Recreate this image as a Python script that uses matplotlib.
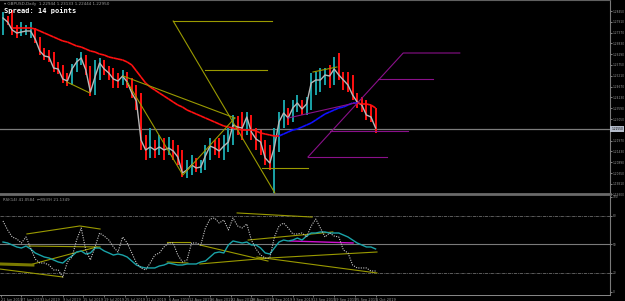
import numpy as np
import matplotlib
matplotlib.use("Agg")
import matplotlib.pyplot as plt
from matplotlib.collections import LineCollection

# daily bars, 21 Jun 2019 .. 1 Oct 2019
closes = [1.2810, 1.2790, 1.2750, 1.2735, 1.2740, 1.2745, 1.2745, 1.2705, 1.2645, 1.2620,
          1.2615, 1.2560, 1.2555, 1.2505, 1.2495, 1.2555, 1.2590, 1.2610, 1.2550, 1.2440,
          1.2515, 1.2585, 1.2555, 1.2535, 1.2505, 1.2495, 1.2520, 1.2490, 1.2435, 1.2395,
          1.2200, 1.2150, 1.2165, 1.2150, 1.2165, 1.2150, 1.2160, 1.2145, 1.2115, 1.2035,
          1.2050, 1.2075, 1.2060, 1.2065, 1.2120, 1.2170, 1.2160, 1.2145, 1.2170, 1.2190,
          1.2275, 1.2265, 1.2260, 1.2315, 1.2240, 1.2205, 1.2190, 1.2110, 1.2085, 1.2165,
          1.2290, 1.2335, 1.2310, 1.2360, 1.2385, 1.2355, 1.2380, 1.2485, 1.2500, 1.2500,
          1.2525, 1.2520, 1.2555, 1.2525, 1.2500, 1.2475, 1.2425, 1.2390, 1.2375, 1.2325,
          1.2315, 1.2260]
highs = [1.2840, 1.2820, 1.2850, 1.2775, 1.2790, 1.2775, 1.2790, 1.2760, 1.2715, 1.2660,
         1.2650, 1.2640, 1.2590, 1.2575, 1.2535, 1.2580, 1.2610, 1.2640, 1.2625, 1.2570,
         1.2600, 1.2610, 1.2600, 1.2570, 1.2560, 1.2535, 1.2550, 1.2540, 1.2510, 1.2475,
         1.2435, 1.2225, 1.2260, 1.2200, 1.2225, 1.2210, 1.2215, 1.2200, 1.2175, 1.2150,
         1.2100, 1.2125, 1.2110, 1.2100, 1.2175, 1.2210, 1.2200, 1.2210, 1.2225, 1.2260,
         1.2325, 1.2320, 1.2340, 1.2340, 1.2325, 1.2260, 1.2250, 1.2200, 1.2175, 1.2260,
         1.2340, 1.2400, 1.2360, 1.2400, 1.2425, 1.2400, 1.2415, 1.2535, 1.2540, 1.2560,
         1.2560, 1.2575, 1.2615, 1.2635, 1.2540, 1.2540, 1.2525, 1.2435, 1.2415, 1.2400,
         1.2375, 1.2360]
lows = [1.2725, 1.2775, 1.2725, 1.2710, 1.2720, 1.2725, 1.2710, 1.2685, 1.2625, 1.2600,
        1.2590, 1.2540, 1.2530, 1.2485, 1.2470, 1.2475, 1.2540, 1.2575, 1.2525, 1.2420,
        1.2425, 1.2500, 1.2525, 1.2500, 1.2460, 1.2460, 1.2475, 1.2460, 1.2410, 1.2350,
        1.2150, 1.2100, 1.2110, 1.2110, 1.2125, 1.2100, 1.2125, 1.2100, 1.2075, 1.2015,
        1.2010, 1.2025, 1.2040, 1.2035, 1.2050, 1.2100, 1.2125, 1.2110, 1.2100, 1.2140,
        1.2175, 1.2225, 1.2200, 1.2225, 1.2200, 1.2150, 1.2125, 1.2075, 1.2050, 1.1935,
        1.2140, 1.2260, 1.2275, 1.2290, 1.2340, 1.2325, 1.2325, 1.2350, 1.2425, 1.2440,
        1.2475, 1.2460, 1.2475, 1.2500, 1.2450, 1.2440, 1.2400, 1.2360, 1.2340, 1.2300,
        1.2290, 1.2235]
first_open = 1.2800

ma = [np.nan, np.nan, 1.2760, 1.2760, 1.2760, 1.2760, 1.2760, 1.2755, 1.2745, 1.2735,
      1.2725, 1.2715, 1.2705, 1.2695, 1.2690, 1.2680, 1.2670, 1.2665, 1.2655, 1.2645,
      1.2640, 1.2630, 1.2625, 1.2615, 1.2610, 1.2605, 1.2600, 1.2590, 1.2575, 1.2545,
      1.2515, 1.2485, 1.2465, 1.2450, 1.2435, 1.2420, 1.2405, 1.2390, 1.2375, 1.2365,
      1.2350, 1.2340, 1.2330, 1.2320, 1.2310, 1.2300, 1.2290, 1.2280, 1.2270, 1.2265,
      1.2260, 1.2255, 1.2250, 1.2250, 1.2250, 1.2245, 1.2235, 1.2230, 1.2225, 1.2220,
      1.2220, 1.2230, 1.2240, 1.2250, 1.2255, 1.2265, 1.2275, 1.2285, 1.2300, 1.2315,
      1.2330, 1.2340, 1.2350, 1.2360, 1.2365, 1.2375, 1.2385, 1.2385, 1.2380, 1.2380,
      1.2375, 1.2360]

rsi_slow = [52.6, 51.6, 49.5, 47.4, 46.3, 48.4, 45.3, 41.1, 38.9, 36.8,
            35.8, 33.7, 31.6, 30.5, 34.7, 37.9, 42.1, 43.2, 40.0, 41.1,
            46.3, 46.3, 43.2, 41.1, 38.9, 40.0, 38.9, 36.8, 32.6, 28.4,
            26.3, 25.3, 25.3, 25.3, 27.4, 28.4, 30.5, 29.5, 28.4, 28.4,
            29.5, 29.5, 29.5, 31.6, 32.6, 36.8, 41.1, 42.1, 41.1, 49.5,
            53.7, 52.6, 51.6, 52.6, 49.5, 49.5, 46.3, 41.1, 40.0, 46.3,
            52.6, 54.7, 53.7, 54.7, 56.8, 54.7, 58.9, 62.1, 62.1, 63.2,
            63.2, 62.1, 62.1, 62.1, 60.0, 57.9, 54.7, 51.6, 49.5, 47.4,
            47.4, 45.3]
rsi_fast = [74.7, 65.3, 57.9, 55.8, 51.6, 57.9, 46.3, 34.7, 30.5, 30.5,
            28.4, 23.2, 23.2, 15.8, 31.6, 36.8, 54.7, 67.4, 44.2, 33.7,
            47.4, 62.1, 58.9, 54.7, 47.4, 42.1, 57.9, 51.6, 41.1, 30.5,
            25.3, 23.2, 30.5, 38.9, 41.1, 47.4, 51.6, 51.6, 38.9, 31.6,
            33.7, 51.6, 51.6, 49.5, 67.4, 76.8, 77.9, 72.6, 75.8, 65.3,
            77.9, 69.5, 67.4, 71.6, 54.7, 45.3, 38.9, 35.8, 35.8, 57.9,
            69.5, 72.6, 67.4, 61.1, 61.1, 62.1, 57.9, 69.5, 76.8, 67.4,
            57.9, 62.1, 58.9, 57.9, 44.2, 41.1, 28.4, 25.3, 25.3, 25.3,
            22.1, 22.1]

# hand drawn objects: (bar index, value) pairs
olive_main = [[(37, 1.2795), (59.1, 1.1935)],
              [(37, 1.2795), (58.5, 1.2795)],
              [(43.9, 1.2550), (57.4, 1.2550)],
              [(56.3, 1.2060), (66.3, 1.2060)],
              [(13.9, 1.2490), (18.9, 1.2435)],
              [(26.1, 1.2520), (50.4, 1.2310)],
              [(27, 1.2490), (39.1, 1.2025), (50.4, 1.2310)],
              [(67.4, 1.2540), (72.6, 1.2565)]]
purple_main = [[(66.3, 1.2115), (87, 1.2635), (99.3, 1.2635)],
               [(81.5, 1.2505), (93.5, 1.2505)],
               [(71.1, 1.2245), (88, 1.2245)],
               [(66.3, 1.2115), (83.5, 1.2115)],
               [(62, 1.2310), (76.5, 1.2385)]]
olive_ind = [[(5.2, 61.1), (16.7, 69.5), (21.1, 66.3)],
             [(5.4, 48.4), (21.1, 47.4)],
             [(6.5, 29.5), (20.4, 47.4)],
             [(-0.7, 24.2), (13, 15.8)],
             [(35.7, 52.6), (40.7, 52.6)],
             [(35.7, 31.6), (40.2, 30.5)],
             [(50.9, 83.2), (67.2, 78.9)],
             [(53.3, 54.7), (71.7, 63.2)],
             [(42.8, 49.5), (57.6, 32.6)],
             [(42.8, 29.5), (58, 35.8), (81.3, 42.1)],
             [(55.2, 36.8), (81.3, 20.0)]]
olive_thick = [(-0.7, 29.5), (6.5, 28.4)]
magenta_ind = [(62.4, 53.7), (76.1, 51.6)]

price_ticks = [1.2845, 1.2791, 1.2737, 1.2683, 1.2629, 1.2575, 1.2521, 1.2467, 1.2413,
               1.2359, 1.2305, 1.2197, 1.2143, 1.2089, 1.2035, 1.1981, 1.1930]
last_price = 1.2255
rsi_ticks = [0, 20, 50, 80, 100]
date_pos = [-0.5, 4, 8.5, 13, 17.5, 22, 26.5, 31, 36, 40.5, 45, 49.5, 54, 58.5,
            63, 67.5, 72, 76.5, 81]
date_labels = ["21 Jun 2019", "27 Jun 2019", "3 Jul 2019", "9 Jul 2019", "15 Jul 2019",
               "19 Jul 2019", "25 Jul 2019", "31 Jul 2019", "6 Aug 2019", "12 Aug 2019",
               "16 Aug 2019", "22 Aug 2019", "28 Aug 2019", "3 Sep 2019", "9 Sep 2019",
               "13 Sep 2019", "19 Sep 2019", "25 Sep 2019", "1 Oct 2019"]

W, H = 625, 301
TEAL = "#1aa3a8"
RED = "#ff1010"
OLIVE = "#9a9a00"
PURPLE = "#8a108a"
GRID = "#7a7a7a"
TXT = "#9a9a9a"


def box(x0, y0, x1, y1):
    return [x0 / W, 1 - y1 / H, (x1 - x0) / W, (y1 - y0) / H]


fig = plt.figure(figsize=(6.25, 3.01), dpi=100, facecolor="black")
ax = fig.add_axes(box(0, 0, 610, 194))
ai = fig.add_axes(box(0, 196, 610, 295), sharex=ax)

x = np.arange(len(closes))
opens = [first_open] + closes[:-1]
cols = [TEAL if c >= o else RED for o, c in zip(opens, closes)]

for a in (ax, ai):
    a.set_facecolor("black")
    a.spines["left"].set_visible(False)
    a.spines["right"].set_color(GRID)
    a.spines["right"].set_linewidth(0.8)
    a.yaxis.tick_right()
    a.tick_params(axis="y", colors=TXT, labelsize=2.1, length=1.2, width=0.6, pad=0.5)

# --- price panel
ax.set_xlim(-0.652, 131.96)
ax.set_ylim(1.193, 1.29)
ax.spines["top"].set_color("#606060")
ax.spines["bottom"].set_color("#6a6a6a")
ax.spines["bottom"].set_linewidth(2)
ax.tick_params(axis="x", bottom=False, labelbottom=False)

ax.axhline(last_price, color="#7c7c7c", lw=0.9, zorder=1)
ax.vlines(x, lows, highs, colors=cols, lw=1.4, zorder=2)
ax.plot(x, closes, color="#b8b8b8", lw=1.0, zorder=3)

ma_arr = np.array(ma)
segs, seg_cols = [], []
cur = RED
for j in range(len(ma_arr) - 1):
    if np.isnan(ma_arr[j]):
        continue
    if ma_arr[j + 1] > ma_arr[j]:
        cur = "#1010ff"
    elif ma_arr[j + 1] < ma_arr[j]:
        cur = RED
    segs.append([(x[j], ma_arr[j]), (x[j + 1], ma_arr[j + 1])])
    seg_cols.append(cur)
ax.add_collection(LineCollection(segs, colors=seg_cols, linewidths=1.2, zorder=4))

for ln in olive_main:
    xs, ys = zip(*ln)
    ax.plot(xs, ys, color=OLIVE, lw=0.8, zorder=5)
for ln in purple_main:
    xs, ys = zip(*ln)
    ax.plot(xs, ys, color=PURPLE, lw=0.8, zorder=5)

ax.set_yticks(price_ticks)
ax.set_yticklabels(["%.5f" % p for p in price_ticks])
ax.text(1.002, last_price, "%.5f" % last_price, transform=ax.get_yaxis_transform(),
        fontsize=2.1, color="black", va="center", ha="left", clip_on=False,
        bbox=dict(boxstyle="square,pad=0.25", fc="#b4bccb", ec="none"))

# --- RSI panel
ai.set_ylim(-3.16, 101.05)
ai.spines["top"].set_visible(False)
ai.spines["bottom"].set_color("#8a8a8a")
ai.spines["bottom"].set_linestyle((0, (3, 1)))
ai.spines["bottom"].set_linewidth(0.7)
for lvl in (20, 80):
    ai.axhline(lvl, color="#6a6a6a", lw=0.6, ls=(0, (4, 1, 1, 1)))
ai.axhline(50, color=GRID, lw=0.8)

for ln in olive_ind:
    xs, ys = zip(*ln)
    ai.plot(xs, ys, color=OLIVE, lw=0.8)
xs, ys = zip(*olive_thick)
ai.plot(xs, ys, color="#7a7a00", lw=2.2)
xs, ys = zip(*magenta_ind)
ai.plot(xs, ys, color="#d010d0", lw=1.0)

ai.plot(x, rsi_slow, color=TEAL, lw=1.0)
ai.plot(x, rsi_fast, color="#c8c8c8", lw=0.8, ls=(0, (1, 1.2)))

ai.set_yticks(rsi_ticks)
ai.set_yticklabels([str(v) for v in rsi_ticks])
ai.set_xticks(date_pos)
ai.set_xticklabels(date_labels)
ai.tick_params(axis="x", colors=TXT, labelsize=2.5, length=1.5, width=0.5, pad=0.5)
for lab in ai.get_xticklabels():
    lab.set_ha("left")

fig.text(4 / W, 1 - 3.5 / H, "\u25be GBPUSD,Daily  1.22944 1.23133 1.22444 1.22950",
         fontsize=3.0, color=TXT, va="center", ha="left")
fig.text(4 / W, 1 - 10.5 / H, "Spread: 14 points", fontsize=5, color="white",
         family="DejaVu Sans Mono", weight="bold", va="center", ha="left")
fig.text(3 / W, 1 - 200 / H, "RSI(14) 41.0584  \u2190RSI(9) 21.1349",
         fontsize=2.8, color=TXT, va="center", ha="left")

fig.savefig("out.png", dpi=100, facecolor="black")
